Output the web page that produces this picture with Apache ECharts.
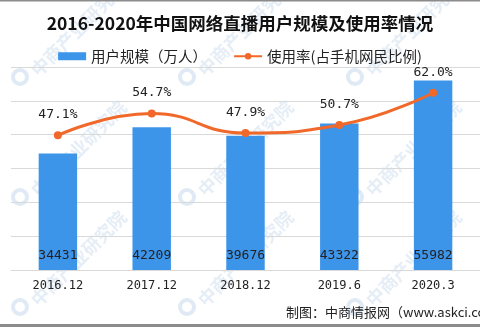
<!DOCTYPE html>
<html>
<head>
<meta charset="utf-8">
<script src="https://cdn.jsdelivr.net/npm/echarts@6/dist/echarts.min.js"></script>
<style>
  html, body { margin: 0; padding: 0; background: #fff; }
  #chart { width: 480px; height: 327px; }
</style>
</head>
<body>
<div id="chart"></div>
<script>
// 2016–2020 live-streaming users in China and usage rate
const categories = ['2016.12', '2017.12', '2018.12', '2019.6', '2020.3'];
const users = [34431, 42209, 39676, 43322, 55982];          // 万人
const usageRate = [47.1, 54.7, 47.9, 50.7, 62.0];           // %

const BAR_COLOR = '#3D95EA';
const LINE_COLOR = '#F0682A';
const MONO = '"DejaVu Sans Mono", "Liberation Mono", monospace';
const CJK = '"Noto Sans CJK SC", sans-serif';

// faint tiled brand watermark
const watermark = [];
const rows = [77, 197, 307];
const cols = [20, 187, 355];
rows.forEach(function (y) {
  cols.forEach(function (x) {
    watermark.push({
      type: 'circle', silent: true, z: -1,
      shape: { cx: x, cy: y, r: 7 },
      style: { fill: 'none', stroke: 'rgba(150,185,220,0.30)', lineWidth: 4 }
    });
    watermark.push({
      type: 'text', silent: true, z: -1,
      x: x + 14, y: y - 4, rotation: Math.PI / 4,
      style: {
        text: '中商产业研究院', fill: 'rgba(150,185,220,0.25)',
        font: 'bold 18px ' + CJK, textVerticalAlign: 'middle'
      }
    });
  });
});

const chart = echarts.init(document.getElementById('chart'), null, { renderer: 'canvas' });
chart.setOption({
  backgroundColor: '#fff',
  animation: false,
  title: {
    text: '2016-2020年中国网络直播用户规模及使用率情况',
    left: 'center', top: 10,
    textStyle: { fontFamily: CJK, fontSize: 17.5, fontWeight: 'bold', color: '#111' }
  },
  legend: {
    top: 44, left: 'center',
    itemGap: 26, itemWidth: 28, itemHeight: 8,
    textStyle: { fontFamily: CJK, fontSize: 14.5, color: '#222' },
    data: [
      { name: '用户规模（万人）', icon: 'rect' },
      { name: '使用率(占手机网民比例)' }
    ]
  },
  grid: { left: 11, right: -6, top: 67, bottom: 57, containLabel: false },
  xAxis: {
    type: 'category',
    data: categories,
    axisLine: { show: true, lineStyle: { color: '#d9d9d9' } },
    axisTick: { show: false },
    axisLabel: { fontFamily: MONO, fontSize: 12, color: '#222', margin: 10 }
  },
  yAxis: [
    {
      type: 'value', min: 0, max: 60000, interval: 10000,
      axisLabel: { show: false }, axisLine: { show: false }, axisTick: { show: false },
      splitLine: { lineStyle: { color: '#d9d9d9' } }
    },
    {
      type: 'value', min: 0, max: 71,
      axisLabel: { show: false }, axisLine: { show: false }, axisTick: { show: false },
      splitLine: { show: false }
    }
  ],
  series: [
    {
      name: '用户规模（万人）',
      type: 'bar',
      data: users,
      barWidth: '41%',
      itemStyle: { color: BAR_COLOR },
      label: {
        show: true, position: 'insideBottom', distance: 8,
        fontFamily: MONO, fontSize: 13, color: '#222'
      }
    },
    {
      name: '使用率(占手机网民比例)',
      type: 'line',
      yAxisIndex: 1,
      data: usageRate,
      smooth: true,
      symbol: 'circle', symbolSize: 8,
      lineStyle: { color: LINE_COLOR, width: 3 },
      itemStyle: { color: LINE_COLOR },
      label: {
        show: true, position: 'top', distance: 10,
        fontFamily: MONO, fontSize: 13, color: '#222',
        formatter: function (p) { return p.value.toFixed(1) + '%'; }
      }
    }
  ],
  graphic: watermark.concat([
    {
      type: 'text', left: 286, top: 306,
      style: { text: '制图：中商情报网（www.askci.com）', font: '13px ' + CJK, fill: '#222' }
    },
    { type: 'rect', shape: { x: 0, y: 0, width: 480, height: 1.5 }, style: { fill: '#8c8c8c' } },
    { type: 'rect', shape: { x: 0, y: 324, width: 480, height: 3 }, style: { fill: '#8c8c8c' } }
  ])
});
</script>
</body>
</html>
